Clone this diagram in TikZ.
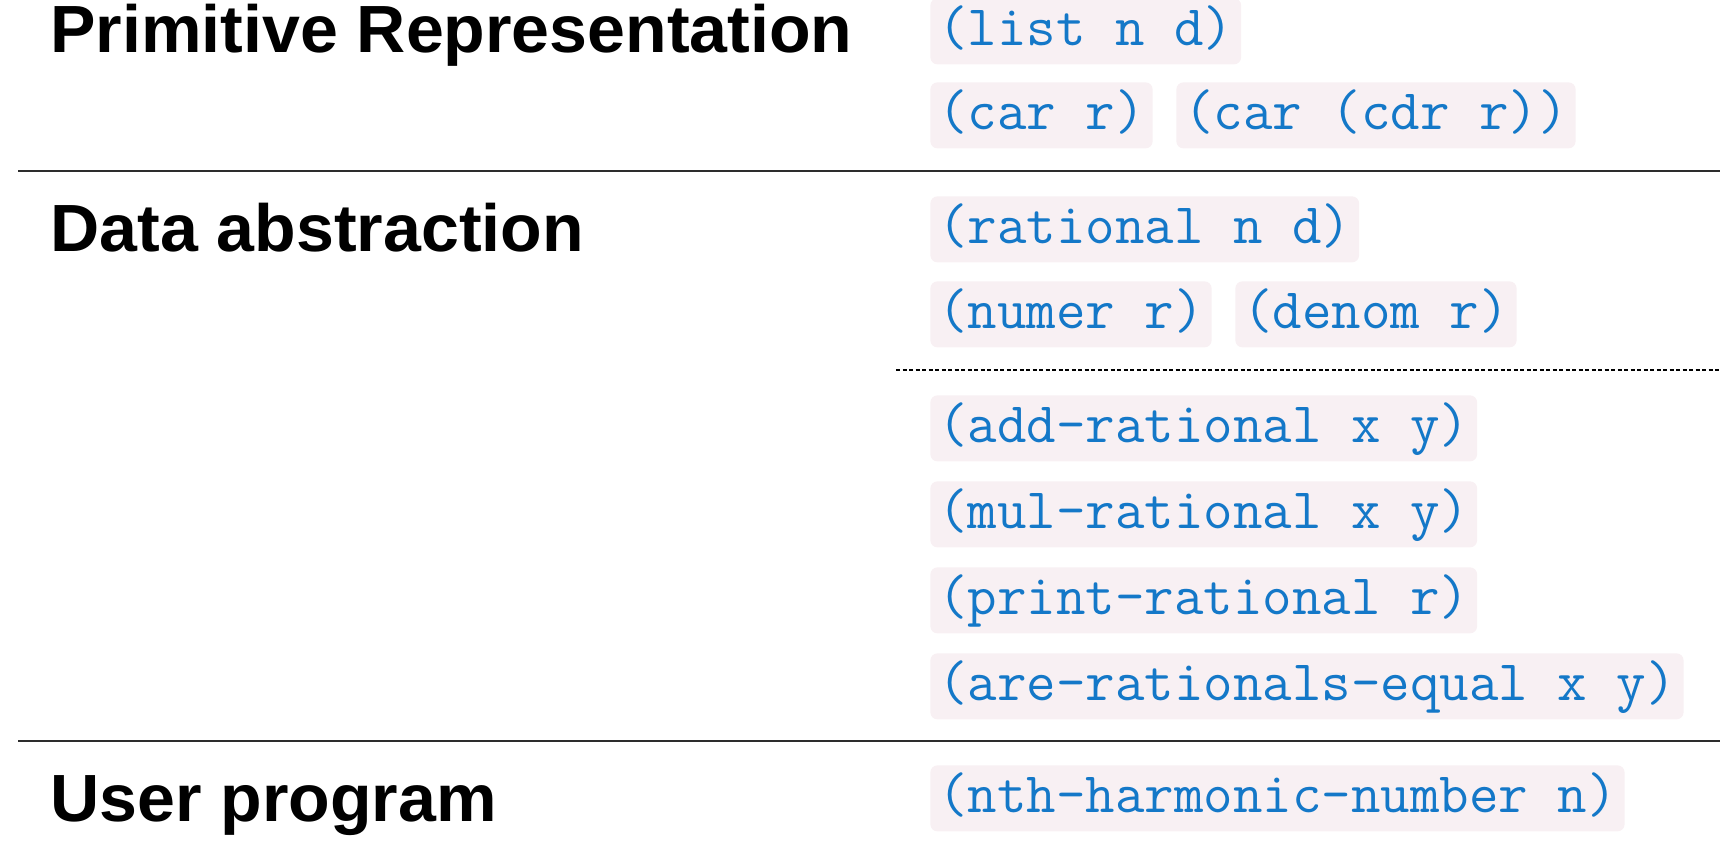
\documentclass[tikz,border=0pt]{standalone}
\usepackage{fontspec}
\usepackage{tikz}
\usetikzlibrary{positioning}
\newfontfamily\headfont[FakeStretch=1.02]{Liberation Sans}
\definecolor{codeblue}{RGB}{20,120,200}
\definecolor{codebg}{RGB}{248,240,243}
\definecolor{rulegray}{RGB}{45,45,45}

\tikzset{
    layer/.style={font=\headfont\bfseries\fontsize{38}{44}\selectfont, anchor=base west, inner sep=0pt},
    codebox/.style={fill=codebg, text=codeblue, rounded corners=4pt, anchor=north west,
        font=\ttfamily\fontsize{32.6}{38}\selectfont, inner xsep=4.5pt, inner ysep=0pt,
        minimum height=1.32cm, text height=24.5pt, text depth=8pt},
    solidrule/.style={rulegray, line width=1.15pt},
    dashrule/.style={black, line width=1.1pt, dash pattern=on 2.3pt off 1.4pt}
}

\begin{document}
\begin{tikzpicture}[x=0.02cm,y=-0.02cm]
    \useasboundingbox (0,0) rectangle (1729,854);

    % Layer titles
    \node[layer] (prim) at (50,53) {Primitive Representation};
    \node[layer] (abst) at (50,252) {Data abstraction};
    \node[layer] (user) at (50,822) {User program};

    % Primitive representation
    \node[codebox] (list) at (930,-2) {(list n d)};
    \node[codebox] (carr) at (930,82) {(car r)};
    \node[codebox, right=0.46cm of carr.north east, anchor=north west] (carcdr) {(car (cdr r))};

    % Constructor and selectors
    \node[codebox] (rational) at (930,196) {(rational n d)};
    \node[codebox] (numer) at (930,281) {(numer r)};
    \node[codebox, right=0.46cm of numer.north east, anchor=north west] (denom) {(denom r)};

    % Operations on rationals
    \foreach \nm/\y/\txt in {addrat/395/{(add-rational x y)},
                             mulrat/481/{(mul-rational x y)},
                             printrat/567/{(print-rational r)},
                             areeq/653/{(are-rationals-equal x y)}}
        \node[codebox] (\nm) at (930,\y) {\txt};

    % User program
    \node[codebox] (nth) at (930,765) {(nth-harmonic-number n)};

    % Separators
    \draw[solidrule] (18,171) -- (1720,171);
    \draw[solidrule] (18,741) -- (1720,741);
    \draw[dashrule] (896,370) -- (1720,370);
\end{tikzpicture}
\end{document}
